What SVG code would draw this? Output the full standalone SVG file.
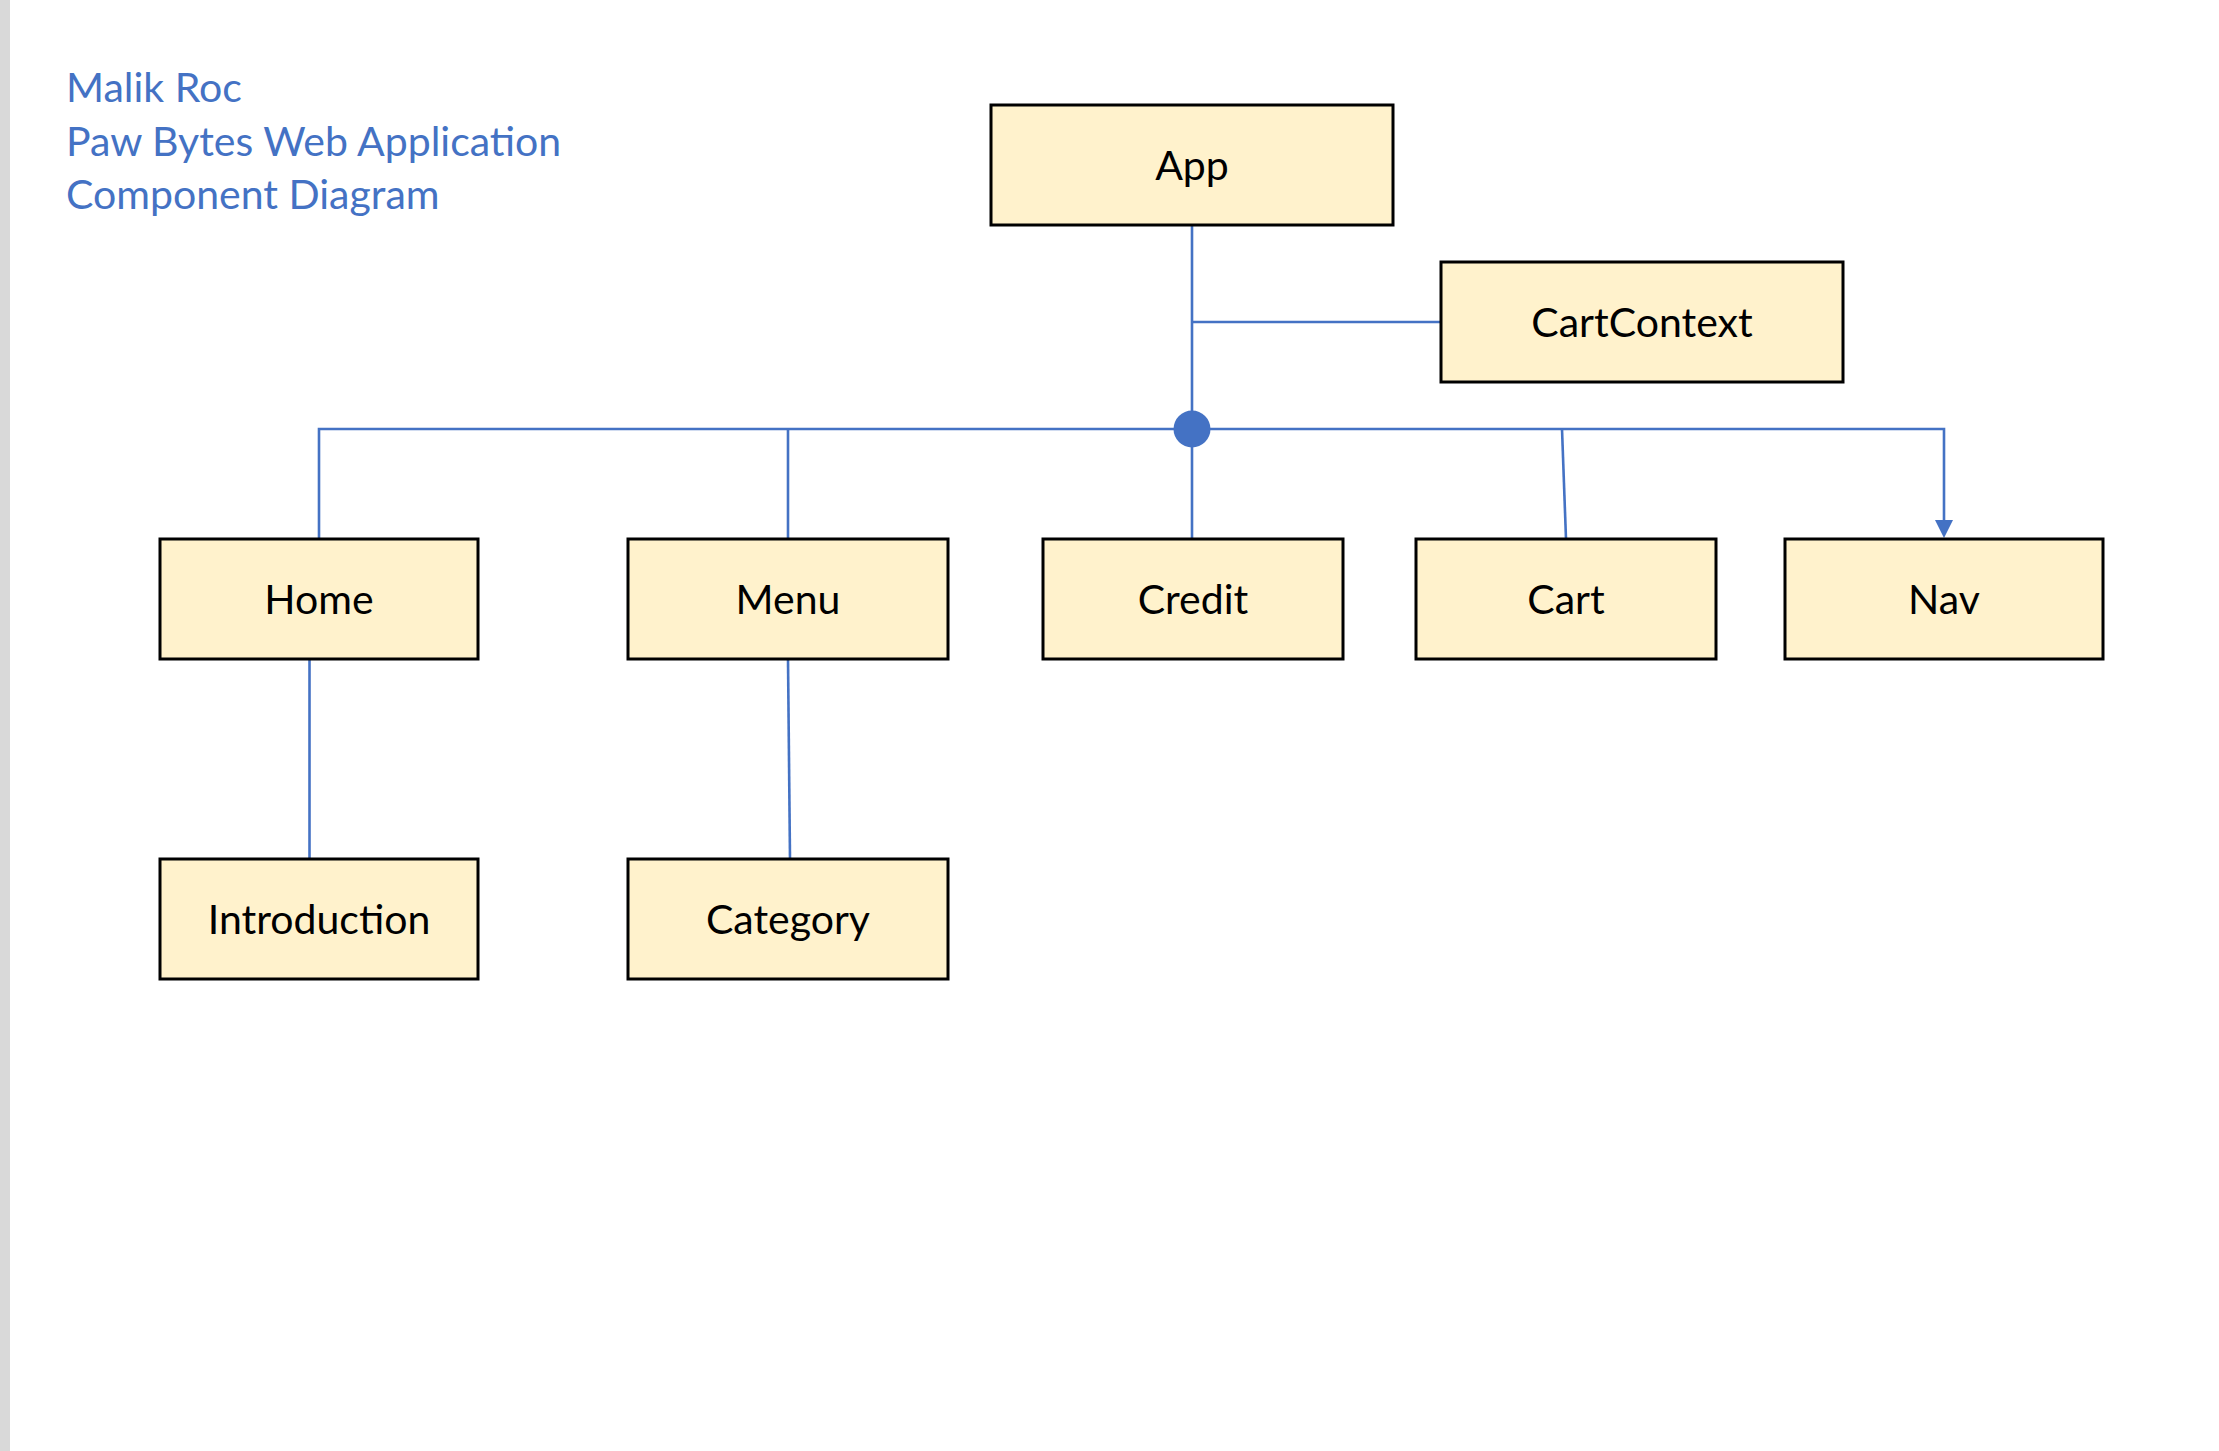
<svg xmlns="http://www.w3.org/2000/svg" width="2219" height="1451" viewBox="0 0 2219 1451">
<defs>
<style>
.box{fill:#FFF2CC;stroke:#000;stroke-width:3}
.lbl{font-family:Lato,"Liberation Sans",sans-serif;font-size:41px;fill:#000;text-anchor:middle}
.ttl{font-family:Lato,"Liberation Sans",sans-serif;font-size:41px;fill:#4472C4}
.con{fill:none;stroke:#4472C4;stroke-width:2.6}
</style>
</defs>
<rect x="0" y="0" width="2219" height="1451" fill="#fff"/>
<rect x="0" y="0" width="10" height="1451" fill="#d9d9d9"/>
<g id="title">
<text class="ttl" x="66" y="102">Malik Roc</text>
<text class="ttl" x="66" y="156">Paw Bytes Web Application</text>
<text class="ttl" x="66" y="209">Component Diagram</text>
</g>
<g id="connectors">
<line class="con" x1="1192" y1="225" x2="1192" y2="539"/>
<line class="con" x1="1192" y1="322" x2="1441" y2="322"/>
<polyline class="con" points="319,539 319,429 1944,429 1944,521"/>
<line class="con" x1="788" y1="429" x2="788" y2="539"/>
<line class="con" x1="1562" y1="429" x2="1566" y2="539"/>
<path d="M1935,520 L1953,520 L1944,538 Z" fill="#4472C4"/>
<line class="con" x1="309.5" y1="659" x2="309.5" y2="859"/>
<line class="con" x1="788" y1="659" x2="790" y2="859"/>
<circle cx="1192" cy="429" r="18.5" fill="#4472C4"/>
</g>
<g id="app"><rect class="box" x="991" y="105" width="402" height="120"/><text class="lbl" x="1192" y="179.5">App</text></g>
<g id="cartcontext"><rect class="box" x="1441" y="262" width="402" height="120"/><text class="lbl" x="1642" y="336.5">CartContext</text></g>
<g id="home"><rect class="box" x="160" y="539" width="318" height="120"/><text class="lbl" x="319" y="613.5">Home</text></g>
<g id="menu"><rect class="box" x="628" y="539" width="320" height="120"/><text class="lbl" x="788" y="613.5">Menu</text></g>
<g id="credit"><rect class="box" x="1043" y="539" width="300" height="120"/><text class="lbl" x="1193" y="613.5">Credit</text></g>
<g id="cart"><rect class="box" x="1416" y="539" width="300" height="120"/><text class="lbl" x="1566" y="613.5">Cart</text></g>
<g id="nav"><rect class="box" x="1785" y="539" width="318" height="120"/><text class="lbl" x="1944" y="613.5">Nav</text></g>
<g id="introduction"><rect class="box" x="160" y="859" width="318" height="120"/><text class="lbl" x="319" y="933.5">Introduction</text></g>
<g id="category"><rect class="box" x="628" y="859" width="320" height="120"/><text class="lbl" x="788" y="933.5">Category</text></g>
</svg>
